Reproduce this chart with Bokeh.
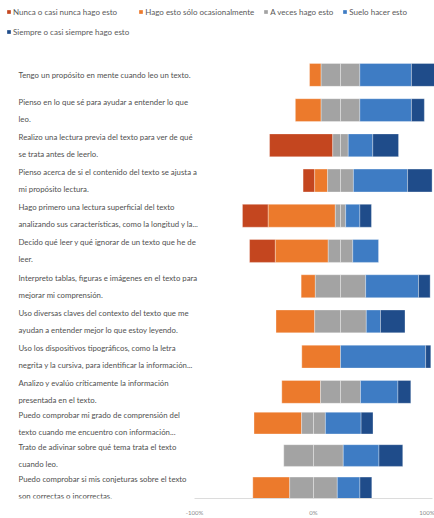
import pandas as pd
from bokeh.plotting import figure
from bokeh.models import (ColumnDataSource, Range1d, LinearAxis, FixedTicker,
                          Legend, LegendItem)
from bokeh.core.properties import value
from bokeh.embed import file_html
from bokeh.resources import INLINE

# ---------------- data ----------------
labels = [
    "Tengo un propósito en mente cuando leo un texto.",
    "Pienso en lo que sé para ayudar a entender lo que\nleo.",
    "Realizo una lectura previa del texto para ver de qué\nse trata antes de leerlo.",
    "Pienso acerca de si el contenido del texto se ajusta a\nmi propósito lectura.",
    "Hago primero una lectura superficial del texto\nanalizando sus características, como la longitud y la...",
    "Decido qué leer y qué ignorar de un texto que he de\nleer.",
    "Interpreto tablas, figuras e imágenes en el texto para\nmejorar mi comprensión.",
    "Uso diversas claves del contexto del texto que me\nayudan a entender mejor lo que estoy leyendo.",
    "Uso los dispositivos tipográficos, como la letra\nnegrita y la cursiva, para identificar la información...",
    "Analizo y evalúo críticamente la información\npresentada en el texto.",
    "Puedo comprobar mi grado de comprensión del\ntexto cuando me encuentro con información...",
    "Trato de adivinar sobre qué tema trata el texto\ncuando leo.",
    "Puedo comprobar si mis conjeturas sobre el texto\nson correctas o incorrectas.",
]
# panel each statement belongs to (the picture stacks two charts)
panel = ["a"] * 10 + ["b"] * 3

nunca   = [0, 0, 49, 9, 20, 20, 0, 0, 0, 0, 0, 0, 0]
ocasion = [9, 20, 0, 10, 52, 41, 11, 30, 30, 30, 40, 0, 31]
a_veces = [30, 30, 12, 20, 8, 19, 39, 40, 0, 31, 20, 50, 40]
suelo   = [40, 40, 19, 42, 11, 20, 41, 11, 66, 29, 30, 30, 19]
siempre = [21, 10, 20, 19, 9, 0, 9, 19, 4, 10, 10, 20, 10]

series_names = ["Nunca o casi nunca hago esto",
                "Hago esto sólo ocasionalmente",
                "A veces hago esto",
                "Suelo hacer esto",
                "Siempre o casi siempre hago esto"]
colors = ["#C4461F", "#EC7A2C", "#A3A3A3", "#3E7CC4", "#1F4C8A"]

x_ticks = [-100, 0, 100]
x_tick_labels = ["-100%", "0%", "100%"]

# ---------------- layout constants ----------------
W, H = 434, 518
AXIS_H = 16
FRAME_H = H - AXIS_H
geo = {
    "a": dict(zero=340, ppp=1.29, row0=75, step=35.5, bar=0.65),
    "b": dict(zero=313, ppp=1.19, row0=426, step=32.7, bar=0.67),
}
LABEL_PX = 18

def xr(g):
    return Range1d(-g["zero"] / g["ppp"], (W - g["zero"]) / g["ppp"])

def yr(g):
    return Range1d((FRAME_H - g["row0"]) / g["step"], -g["row0"] / g["step"])

df = pd.DataFrame({"label": labels, "panel": panel, "nunca": nunca,
                   "ocas": ocasion, "veces": a_veces, "suelo": suelo,
                   "siempre": siempre})
df["row"] = df.groupby("panel").cumcount()
half = df["veces"] / 2
seg = {
    "nunca": (-half - df["ocas"] - df["nunca"], -half - df["ocas"], df["nunca"]),
    "ocas": (-half - df["ocas"], -half, df["ocas"]),
    "veces_l": (-half, 0 * half, df["veces"]),
    "veces_r": (0 * half, half, df["veces"]),
    "suelo": (half, half + df["suelo"], df["suelo"]),
    "siempre": (half + df["suelo"], half + df["suelo"] + df["siempre"], df["siempre"]),
}
seg_color = {"nunca": colors[0], "ocas": colors[1], "veces_l": colors[2],
             "veces_r": colors[2], "suelo": colors[3], "siempre": colors[4]}
seg_series = {"nunca": 0, "ocas": 1, "veces_l": 2, "veces_r": 2, "suelo": 3, "siempre": 4}

p = figure(width=W, height=H, x_range=xr(geo["a"]), y_range=yr(geo["a"]),
           x_axis_location=None, y_axis_location=None,
           toolbar_location=None, output_backend="svg",
           min_border=0, min_border_bottom=AXIS_H)
p.extra_x_ranges = {"b": xr(geo["b"])}
p.extra_y_ranges = {"b": yr(geo["b"])}
p.outline_line_color = None
p.xgrid.visible = False
p.ygrid.visible = False
p.background_fill_color = "white"
p.border_fill_color = "white"

legend_renderers = {i: [] for i in range(5)}
for pn, g in geo.items():
    sub_idx = df["panel"] == pn
    kw = {} if pn == "a" else dict(x_range_name="b", y_range_name="b")
    for key, (lft, rgt, val) in seg.items():
        m = sub_idx & (val > 0)
        src = ColumnDataSource(dict(y=df.loc[m, "row"], left=lft[m], right=rgt[m]))
        r = p.hbar(y="y", left="left", right="right", height=g["bar"], source=src,
                   fill_color=seg_color[key], line_color="white", line_alpha=0.45,
                   line_width=0.7, **kw)
        legend_renderers[seg_series[key]].append(r)
    xs = xr(g).start + LABEL_PX / g["ppp"]
    tsrc = ColumnDataSource(dict(x=[xs] * int(sub_idx.sum()),
                                 y=df.loc[sub_idx, "row"],
                                 t=df.loc[sub_idx, "label"]))
    p.text(x="x", y="y", text="t", source=tsrc, text_font=value("Lato"),
           text_font_size="7.8px", text_color="#505050", text_align="left",
           text_baseline="middle", text_line_height=1.7, **kw)

axis = LinearAxis(x_range_name="b", ticker=FixedTicker(ticks=x_ticks),
                  major_label_overrides={t: l for t, l in zip(x_ticks, x_tick_labels)})
axis.bounds = (x_ticks[0], x_ticks[-1])
axis.axis_line_color = "#dcdcdc"
axis.major_tick_line_color = None
axis.minor_tick_line_color = None
axis.major_label_text_font_size = "6px"
axis.major_label_text_color = "#8a8a8a"
axis.major_label_text_font = "Lato"
axis.major_label_standoff = 4
p.add_layout(axis, "below")

items = [LegendItem(label=series_names[i], renderers=legend_renderers[i]) for i in range(5)]
legend = Legend(items=items, orientation="horizontal", ncols=4, location="top_left",
                margin=6, padding=10, spacing=9, label_standoff=2,
                glyph_width=5, glyph_height=5, label_height=11,
                label_text_font="Lato", label_text_font_size="8px",
                label_text_color="#595959", background_fill_alpha=0,
                border_line_color=None)
p.add_layout(legend)

open("out.html", "w").write(file_html(p, INLINE))
